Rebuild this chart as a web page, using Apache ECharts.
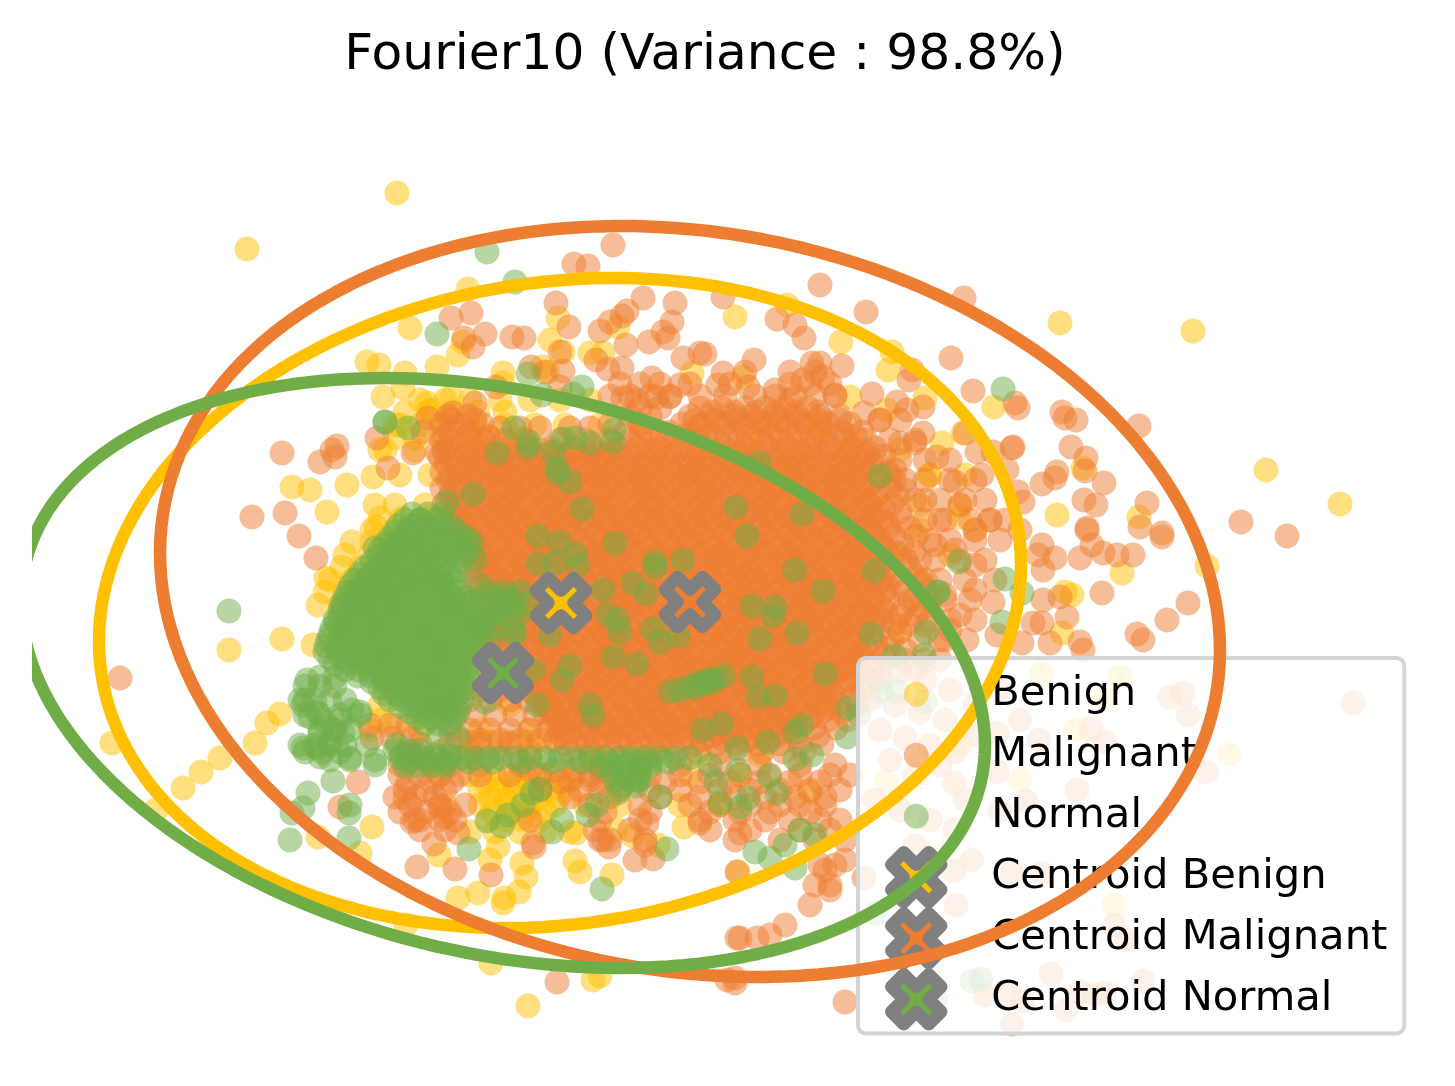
<!DOCTYPE html>
<html><head><meta charset="utf-8"><style>html,body{margin:0;background:#fff}#c{width:1455px;height:1086px}</style>
<script src="https://cdn.jsdelivr.net/npm/echarts@6/dist/echarts.min.js"></script></head><body><div id="c"></div>
<script>
const titleText = 'Fourier10 (Variance : 98.8%)';
const classNames = ['Benign','Malignant','Normal'];
const classColors = ['#FFC000','#ED7D31','#70AD47'];
// Dense areas are read as rows: [y, x, x, x ...]
const benignRows = [
[400,420,445,470,500,530,560,590],[412,405,428,452,478,505],[425,395,420,445,475,505,535,565,600,640,700,760,820],[438,395,415,440,465,490,520],
[450,385,415,445,475,505,540,575,610,650,700,750,800,850,900],[475,400,430,460,500,540,590,640,690,740,790,840,890,930,965],
[505,375,395,425,450,500,550,600,650,700,760,810,870,920,960],[518,380,402,428,450],[530,372,395,420,450,500,560,620,680,740,800,860,920,975],
[542,352,372,392,412],[555,345,370,395,430,480,540,600,660,720,790,850,900,950],[567,342,360,380,402],[580,330,352,375,400,440,500,560,620,680,740,800,860,920],
[592,325,345,362,385],[605,318,340,365,395,450,500,560,620,680,740,800,860],[630,340,375,420,480,540,600,660,720,780,840,900],
[655,385,440,500,560,620,680,740,800,860],[680,430,490,540,600,650,710,770,830],[705,380,430,510,545,590,650,710,770,830],
[730,370,420,480,530,560,610,670,730,790],[742,470,490,510,530,550],[755,410,470,530,590,650,700,760],[775,440,470,495,520,545,575,610,690,740],
[782,485,500,515,530,548,565],[790,480,498,515,532,550,568],[798,490,505,522,540,558],[805,445,480,505,530,555,585,620,680,720],[812,492,510,528,545],[820,488,505,522,540],[832,470,495,520,545,570]
];
const benignPoints = [
[397,193],[247,249],[468,289],[410,328],[367,362],[379,365],[405,373],[437,367],[458,355],[463,342],[383,397],[403,388],[427,403],[431,410],[452,397],[503,373],[503,383],[558,318],[550,340],[563,352],[590,353],[603,353],[618,327],[400,425],[380,450],[542,367],[548,372],[692,373],
[735,317],[787,305],[841,342],[892,352],[888,370],[1060,323],[994,407],[925,398],[887,410],[1057,515],[1083,468],[1139,517],[959,517],[963,433],[942,443],[929,475],[850,397],[743,377],[1122,573],[1072,595],[1062,633],[1193,331],[1266,470],[1340,504],[1207,566],
[292,487],[310,490],[347,485],[373,477],[327,512],[376,527],[229,650],[282,639],[313,645],[326,578],[112,743],[156,810],[183,788],[201,772],[220,758],[255,743],[267,723],[280,714],[318,837],[372,827],[360,853],[439,855],[458,898],[478,893],[504,898],[503,903],[519,892],[526,877],[522,863],[490,860],[498,847],[575,861],[580,872],[612,875],[616,829],[633,836],[658,845],[684,827],[576,833],[406,925],[491,963],[528,1006],[593,980],[600,976],[738,872],[810,792],
[1120,677],[1041,673],[1229,754],[886,781],[1114,905],[920,760],[960,745],[1020,780],[1105,700],[1075,730],[1065,592],[380,720],[395,725],[548,703],[552,712],[610,655],[655,520]
];
const malignantRows = [
[372,745,790,815],[384,620,640,660,690,730,790,810,830],[396,610,630,650,670,700,725,755,775,795,815,835],
[408,700,722,745,765,785,808,640,660],[416,448,468,690,712,735,752,775,797,820,840,630,650],[424,442,462,482,682,702,724,744,766,788,806,828,850,610,640],
[428,500,520,540,570,590],
[432,450,470,625,648,670,692,712,735,757,778,798,820,842,862],[440,442,462,484,505,560,610,630,655,675,698,718,740,762,782,804,825,845,866,525,585],
[448,448,468,488,510,530,552,574,594,618,638,660,682,702,724,745,768,788,810,830,852,875],
[456,440,460,482,502,524,546,566,588,608,630,652,672,695,716,738,758,780,802,822,845,866,884],
[464,446,468,488,510,530,552,572,596,616,638,658,680,702,722,745,766,788,808,830,852,872],
[472,442,462,484,504,526,546,568,590,610,632,654,674,696,718,738,760,782,802,824,846,866,888],
[480,448,470,490,512,532,554,574,598,618,640,660,682,704,724,746,768,790,810,832,854,874,894],
[488,442,464,484,506,526,548,570,590,612,634,654,676,698,718,740,762,782,804,826,846,868,890],
[496,450,472,492,514,534,556,576,600,620,642,662,684,706,726,748,770,790,812,834,854,876,898],
[504,444,466,486,508,528,550,572,592,614,636,656,678,700,720,742,764,784,806,828,848,870,892],
[512,452,474,494,516,536,558,578,602,622,644,664,686,708,728,750,772,792,814,836,856,878,900],
[520,456,476,498,518,540,560,582,604,624,646,668,688,710,732,752,774,796,816,838,860,880,902],
[528,464,484,506,526,548,568,590,612,632,654,676,696,718,740,760,782,804,824,846,868,888,910],
[536,470,490,512,532,554,574,596,618,638,660,682,702,724,746,766,788,810,830,852,874,894,916],
[544,476,498,518,540,560,582,604,624,646,668,688,710,732,752,774,796,816,838,860,880,902],
[552,470,492,512,534,554,576,598,618,640,662,682,704,726,746,768,790,810,832,854,874,896,914],
[560,480,500,522,542,564,586,606,628,650,670,692,714,734,756,778,798,820,842,862,884,906,920],
[568,484,506,526,548,568,590,612,632,654,676,696,718,740,760,782,804,824,846,868,888,910],
[576,490,512,532,554,574,596,618,638,660,682,702,724,746,766,788,810,830,852,874,894,916],
[584,494,516,536,558,578,602,622,644,664,686,708,728,750,772,792,814,836,856,878,900,922],
[592,500,522,542,564,584,606,628,648,670,692,712,734,756,776,798,820,840,862,884,904,926],
[600,504,526,546,568,590,610,632,654,674,696,718,738,760,782,802,824,846,866,888,910,930],
[608,500,520,542,562,584,606,626,648,670,690,712,734,754,776,798,818,840,862,882,904,922],
[616,496,516,538,558,580,602,622,644,666,686,708,730,750,772,794,814,836,858,878,900,916],
[624,490,512,532,554,574,596,618,638,660,682,702,724,746,766,788,810,830,852,874,894,910],
[632,494,516,536,558,578,602,622,644,664,686,708,728,750,772,792,814,836,856,878,900],
[640,488,510,530,552,572,594,616,636,658,680,700,722,744,764,786,808,828,850,872,892],
[648,484,504,526,546,568,590,610,632,654,674,696,718,738,760,782,802,824,846,866,888],
[656,480,500,522,542,564,586,606,628,650,670,692,714,734,756,778,798,820,842,862,884],
[664,490,512,532,554,574,596,618,638,660,682,702,724,746,766,788,810,830,852,874],
[672,498,520,540,562,582,604,626,646,668,690,710,732,754,774,796,818,838,860,880],
[680,510,530,552,572,594,616,636,658,680,700,722,744,764,786,808,828,850,872],
[688,522,542,564,584,606,628,648,670,692,712,734,756,776,798,820,840,862],
[696,536,556,578,598,620,642,662,684,706,726,748,770,790,812,834,854],
[704,540,562,582,604,626,646,668,690,710,732,754,774,796,818,838,858],
[712,545,566,586,608,630,650,672,694,714,736,758,778,800,822,842],
[720,552,572,594,616,636,658,680,700,722,744,764,786,808,828,848],
[728,558,580,600,622,644,664,686,708,728,750,772,792,814,836],
[736,562,584,604,626,648,668,690,712,732,754,776,796,818],
[744,420,450,480,510,566,588,610,630,652,672,694,716,736,758,780,800,822],
[752,410,440,470,500,530,570,592,612,634,656,676,698,720,740,762,784,804],
// second pass over the solid middle
[412,712,734,756,775,796,818],[420,452,475,695,715,735,757,778,798,818,840],[436,445,468,488,640,662,684,705,726,748,770,790,812,832,855],
[452,444,466,486,506,528,548,570,592,612,634,656,676,698,720,740,762,784,804,826,848,868],
[460,452,474,494,516,536,558,580,600,622,644,664,686,708,728,750,772,792,814,836,856,876],
[468,458,478,500,520,542,562,586,606,628,648,670,692,712,735,756,778,798,820,842,862],
[476,450,472,494,514,536,558,578,600,622,642,664,686,706,728,750,770,792,814,834,856,880],
[484,458,480,500,522,544,564,586,608,628,650,672,692,714,736,756,778,800,820,842,862],
[492,452,474,496,516,538,560,580,602,624,644,666,688,708,730,752,772,794,816,836,858,880],
[500,460,482,504,524,546,568,588,610,632,652,674,696,716,738,760,780,802,824,844,866],
[508,456,478,500,520,542,564,584,606,628,648,670,692,712,734,756,776,798,820,840,862,884],
[516,466,488,510,530,552,574,594,616,638,658,680,702,722,744,766,786,808,830,850,872],
[524,462,482,504,526,546,568,590,610,632,654,674,696,718,738,760,782,802,824,846,866,888],
[532,468,488,510,532,552,574,596,616,638,660,680,702,724,744,766,788,808,830,852,872],
[540,474,496,518,538,560,582,602,624,646,666,688,710,730,752,774,794,816,838,858,880],
[548,478,500,520,542,564,584,606,628,648,670,692,712,734,756,776,798,820,840,862,884],
[556,484,506,526,548,570,590,612,634,654,676,698,718,740,762,782,804,826,846,868,890],
[564,488,510,532,552,574,596,616,638,660,680,702,724,744,766,788,808,830,852,872],
[572,494,516,536,558,580,600,622,644,664,686,708,728,750,772,792,814,836,856,878],
[580,498,520,542,562,584,606,626,648,670,690,712,734,754,776,798,818,840,862,882],
[588,504,526,548,568,590,612,632,654,676,696,718,740,760,782,804,824,846,868,888],
[596,508,530,552,572,594,616,636,658,680,700,722,744,764,786,808,828,850,872],
[604,506,528,550,570,592,614,634,656,678,698,720,742,762,784,806,826,848,870],
[612,502,524,546,566,588,610,630,652,674,694,716,738,758,780,802,822,844,866,886],
[620,498,520,542,562,584,606,626,648,670,690,712,734,754,776,798,818,840,862,882],
[628,500,522,544,564,586,608,628,650,672,692,714,736,756,778,800,820,842,864],
[636,496,518,540,560,582,604,624,646,668,688,710,732,752,774,796,816,838,860],
[644,492,514,536,556,578,600,620,642,664,684,706,728,748,770,792,812,834,856,876],
[652,488,510,532,552,574,596,616,638,660,680,702,724,744,766,788,808,830,852],
[660,494,516,538,558,580,602,622,644,666,686,708,730,750,772,794,814,836,858],
[668,504,526,548,568,590,612,632,654,676,696,718,740,760,782,804,824,846],
[676,514,536,556,578,600,620,642,664,684,706,728,748,770,792,812,834,856],
[684,526,548,568,590,612,632,654,676,696,718,740,760,782,804,824,846],
[692,532,554,574,596,618,638,660,682,702,724,746,766,788,810,830],
[700,544,566,586,608,630,650,672,694,714,736,758,778,800,822],
[708,550,572,592,614,636,656,678,700,720,742,764,784,806,828],
[716,556,578,598,620,642,662,684,706,726,748,770,790,812],
[724,562,584,604,626,648,668,690,712,732,754,776,796],
[732,570,590,612,634,654,676,698,718,740,762,782],
[740,574,596,618,638,660,682,702,724,746,766],
// between the dense block and the Normal cluster
[570,470,478],[580,472,482],[590,475,488],[600,480,492],[620,480],[660,478],[675,490],[690,480,500,515],[700,452,470,490,510,528],[715,455,475,495,515,535],[725,370,390,408],[730,450,470,490,510,530,548],[738,372,392,412],[740,460,480,500,520,540,555],
[770,530,555,575,600],[780,570,590],[790,600],
// lower and right edges of the cloud
[420,880,900],[440,890,915],[460,900,925,950],[480,905,925,950,975],[500,915,940,965],[520,925,945,970,990],[540,930,950,975,1000],[560,935,960,985],[580,940,965],[600,945,970],[620,930,950,975],[640,920,945],[660,905,925],
[765,400,425,450,480,520,600,640,680,720,760,800,835],
[775,400,420,440,460,480,510,540,590,620,650,680,710,740,770,800,830,850],
[782,408,432,452,560,600,635,665,700,730,760,790,820],
[790,405,425,445,540,580,620,650,680,720,750,780,810,840],[797,395,415,435,570,610,660,700,735,765,795,825],[805,410,440,465,590,640,690,720,750,780,800,825],
[812,400,425,450,605,650,710,740,770,810],[820,415,440,455,530,600,640,700,735,765,790,820,840],[830,420,445,595,630,710,750,800,830],[840,600,610,645,735,780,815,845],[865,820,835],[885,815,830]
];
const malignantPoints = [
[282,453],[613,245],[574,264],[588,266],[556,303],[643,298],[675,303],[627,311],[622,316],[610,322],[600,331],[569,327],[672,322],[663,332],[668,338],[649,342],[626,345],[451,318],[471,313],[485,334],[464,338],[473,347],[512,337],[524,338],[560,352],[563,371],[560,387],[596,360],[683,358],[700,353],[531,367],[545,372],[608,369],[622,368],[652,378],[680,385],[670,397],[623,398],[637,400],[657,397],[496,387],[475,403],[453,413],[428,418],[423,432],[377,438],[337,446],[332,450],[335,457],[320,462],[388,468],[413,453],[437,452],
[723,297],[820,285],[866,312],[777,319],[795,325],[804,338],[705,354],[754,360],[964,298],[951,358],[912,370],[909,380],[973,391],[1015,403],[1018,408],[1062,412],[1065,418],[1076,420],[1139,426],[1071,447],[1086,458],[1057,472],[1055,478],[1042,484],[1085,471],[1104,483],[1084,500],[1096,505],[1147,503],[1087,528],[1140,527],[1162,533],[1013,447],[1012,448],[993,452],[977,452],[1007,470],[1018,492],[1023,502],[982,475],[985,500],[955,482],[965,433],[923,433],[915,443],[937,457],[900,443],[923,407],[907,410],[897,402],[872,394],[864,413],[842,366],[820,363],[812,363],[823,377],[803,380],[775,390],[748,387],[723,373],[718,385],[790,400],[835,395],[880,420],[895,470],[905,490],[925,500],[940,520],[960,505],[975,530],[990,520],[935,545],[955,550],[975,565],[995,580],[925,580],[945,595],[960,615],[975,590],[915,600],[925,625],[940,640],[905,650],[915,670],[940,660],[950,630],[1005,520],[1020,530],
[1087,530],[1162,537],[1092,545],[1080,558],[1103,553],[1117,555],[1133,555],[1102,593],[1167,620],[1137,634],[1143,640],[1067,617],[1060,597],[1043,600],[1042,623],[1033,623],[997,635],[1022,643],[1050,643],[1080,642],[1083,650],[1042,545],[1055,558],[1038,555],[1043,570],[993,602],[967,640],[1188,603],[1241,522],[1287,536],
[120,678],[252,517],[285,513],[299,536],[316,558],[358,782],[340,807],[405,798],[412,822],[420,820],[434,844],[417,867],[455,869],[440,807],[445,817],[458,833],[491,875],[533,843],[534,847],[603,840],[609,847],[645,845],[635,860],[653,859],[647,823],[700,823],[740,833],[737,872],[737,938],[557,982],[727,980],[735,983],[735,978],[845,1002],[740,938],[757,938],[770,935],[785,925],[830,890],[810,905],[825,870],[845,860],
[1353,703],[1170,697],[1183,693],[1188,715],[1206,772],[1091,729],[1105,742],[1077,790],[1026,801],[1039,740],[997,733],[997,772],[954,783],[1012,873],[1042,873],[1114,925],[1127,940],[1143,981],[1080,992],[1095,995],[1105,993],[1051,974],[1008,995],[1023,1001],[1066,1010],[1012,1024],[972,860],[956,905],[954,871],[915,846],[864,878],[985,995],
[880,680],[900,672],[925,680],[950,690],[870,700],[895,705],[920,712],[945,720],[975,705],[880,730],[905,738],[930,745],[955,752],[975,735],[890,760],[915,775],[940,765],[965,800],[875,800],[900,810],[930,820],[955,830],[1000,690],[1020,720],[1000,810]
];
const normalRows = [
[514,412,428,442],[520,405,420,436],[526,398,412,426,440,452],[532,395,408,420,432,445,458],[538,390,402,415,428,440,452,466],[544,385,397,410,422,435,448,460,472],[550,380,392,404,416,428,442,455,468],[556,378,390,402,415,428,440,452,465],[562,372,384,396,408,420,434,446,458],
[568,365,378,390,403,416,428,440],[574,360,372,384,396,410,422,434,448],[580,355,368,380,392,405,418,430,442,455],[586,350,362,374,386,400,412,424,438,450],[592,348,360,372,385,398,410,422,435,448,460,490,505,520],[598,345,356,368,380,392,404,416,430,442,454,466,482,498,512],
[604,342,355,368,380,392,405,418,430,442,455,468,482,495,508,525],[610,340,352,362,374,386,398,412,424,436,448,460,474,488,500,515],[616,340,352,365,378,390,402,415,428,440,452,465,478,490,503,518],[622,336,348,360,372,384,396,408,422,434,446,458,470,484],
[628,332,345,358,370,382,395,408,420,432,445,458,470,483,495],[634,330,342,354,366,378,392,404,416,428,440,452,466,478],[640,328,340,352,365,378,390,402,415,428,440,452,465,478,490],[646,326,338,350,362,374,386,400,412,424,436,448,460,474],
[652,325,338,350,362,375,388,400,412,425,438,450,462,475],[658,330,342,354,366,380,392,404,416,430,442,454,466],[664,335,348,360,372,385,398,410,422,435,448,460,472],[670,345,358,370,382,394,406,418,430,442,454,466],
[676,358,370,382,395,408,420,432,445,458,470],[682,372,384,396,410,422,434,446,458,470],[688,380,392,405,418,430,442,455,468],[694,384,396,408,420,434,446,458],[700,390,402,415,428,440,452,462],[706,400,412,424,438,448,460],
[712,410,422,435,448,458],[718,418,430,442,454],[724,425,438,450],[686,305,320,335],[700,300,315,330,345],[715,305,320,340,360],[730,320,335,350],[745,300,315,330,345],[752,305,322,340],[760,330,350,375],
[750,395,408,420],[755,402,418,435,450],
[758,400,412,425,438,450,462,475,488,500,515,530,545,560,575,590,605,620,632,645,660,675,690],[762,408,428,446,468,492,522,552,582,610,628,650,668],[766,405,418,432,445,600,612,625,638,650],[772,612,625,640],[780,615,630,640],[786,622,636]
];
const normalPoints = [
[538,536],[559,542],[538,564],[555,563],[575,554],[578,565],[615,543],[582,509],[570,482],[557,473],[473,494],[655,562],[655,567],[683,560],[633,583],[646,594],[603,590],[608,615],[618,620],[620,632],[653,629],[660,642],[678,636],[613,657],[637,664],[570,666],[562,680],[590,705],[593,716],[537,705],[485,702],[550,635],[513,633],[533,670],
[670,692],[680,690],[690,686],[700,682],[708,680],[716,678],[724,676],[695,688],[705,684],[712,682],
[736,507],[802,514],[747,536],[795,570],[823,591],[752,606],[775,607],[773,616],[797,633],[760,639],[871,634],[874,571],[959,562],[938,592],[938,592],[926,632],[895,656],[924,655],[825,674],[752,677],[775,696],[758,697],[848,708],[802,725],[795,732],[847,737],[768,742],[722,724],[703,730],[737,748],[812,755],[795,759],[769,776],[738,770],[710,765],[716,782],[748,798],[777,793],[1002,622],[1005,579],[1022,593],[1003,389],[880,476],[759,463],
[487,252],[515,282],[437,334],[385,422],[385,422],[528,374],[582,387],[542,395],[573,394],[408,428],[514,428],[529,442],[528,448],[497,453],[553,452],[563,439],[575,438],[590,443],[614,430],[613,442],[557,468],
[229,611],[307,680],[320,677],[335,677],[305,700],[303,705],[317,712],[310,717],[352,710],[360,712],[333,730],[320,733],[343,733],[303,748],[317,748],[330,743],[350,758],[320,757],[367,745],[375,765],[335,620],[343,607],[353,592],[368,578],[375,548],[397,543],[420,520],[443,523],[447,502],[468,540],[475,560],[460,570],[420,573],[443,585],[480,585],[462,603],[470,630],[515,633],[437,737],[458,737],[397,745],[340,720],[325,722],
[308,793],[303,808],[292,813],[290,840],[333,781],[350,805],[349,813],[349,838],[469,849],[602,889],[667,849],[487,821],[502,826],[508,815],[523,805],[540,789],[532,793],[552,832],[562,820],[588,815],[597,805],[618,793],[660,797],[637,780],[720,803],[740,807],
[755,852],[770,858],[785,845],[800,830],[815,835],[795,868],
[881,691],[897,691],[925,702],[859,715],[877,913],[972,981],[981,979],[936,999]
];
const centroidNames = ['Centroid Benign','Centroid Malignant','Centroid Normal'];
const centroids = [[561,603],[690,602],[503,673]];
// Each ellipse as read: centre x, centre y, half width, half height, y offset of its rightmost point
const ellipses = [[560,603,461,325,-38],[690,601.5,530,375.5,48.5],[503,673,482,295,72]];
const xRange = [32,1423], yRange = [100,1050];

const fromRows = rows => rows.flatMap(r => r.slice(1).map(x => [x, r[0]]));
const pointData = [fromRows(benignRows).concat(benignPoints), fromRows(malignantRows).concat(malignantPoints), fromRows(normalRows).concat(normalPoints)];

const xShape = 'M12.5 0L25 12.5L37.5 0L50 12.5L37.5 25L50 37.5L37.5 50L25 37.5L12.5 50L0 37.5L12.5 25L0 12.5Z';
const anchors = 'M0 0L0 0M95 50L95 50';
const xIcon = 'path://' + anchors + xShape;
const dotIcon = 'path://' + anchors + 'M37.5 25A12.5 12.5 0 1 1 12.5 25A12.5 12.5 0 1 1 37.5 25Z';
const xSymbol = 'path://' + xShape;

function renderEllipse(params, api){
  const cx=api.value(0), cy=api.value(1), hw=api.value(2), hh=api.value(3), off=api.value(4);
  const b=Math.sqrt(hh*hh-off*off), pts=[];
  for(let i=0;i<180;i++){const t=i/180*2*Math.PI; pts.push(api.coord([cx+hw*Math.cos(t), cy+off*Math.cos(t)+b*Math.sin(t)]));}
  const r=params.coordSys;
  return {type:'polygon',shape:{points:pts},style:{fill:null,stroke:classColors[api.value(5)],lineWidth:12.5,lineJoin:'round'},
    clipPath:{type:'rect',shape:{x:r.x,y:r.y,width:r.width,height:r.height}}};
}

const series = [];
classNames.forEach((n,i)=>series.push({name:n,type:'scatter',data:pointData[i],symbol:'circle',symbolSize:25,z:2,
  itemStyle:{color:classColors[i],opacity:0.5,borderWidth:0},silent:true}));
centroidNames.forEach((n,i)=>series.push({name:n,type:'scatter',data:[centroids[i]],symbol:xSymbol,symbolSize:50,z:3,
  itemStyle:{color:classColors[i],opacity:1,borderColor:'#808080',borderWidth:12.5,borderJoin:'round'},silent:true}));
ellipses.forEach((e,i)=>series.push({name:'Ellipse '+classNames[i],type:'custom',renderItem:renderEllipse,data:[[...e,i]],z:5,silent:true}));

const legendData = classNames.map((n,i)=>({name:n,icon:dotIcon,itemStyle:{color:classColors[i],opacity:0.5,borderColor:'rgba(0,0,0,0)',borderWidth:12.5}}))
 .concat(centroidNames.map((n,i)=>({name:n,icon:xIcon,itemStyle:{color:classColors[i],opacity:1,borderColor:'#808080',borderWidth:12.5,borderJoin:'round'}})));

const chart = echarts.init(document.getElementById('c'),null,{renderer:'canvas',width:1455,height:1086});
chart.setOption({
  animation:false,backgroundColor:'#fff',
  title:{text:titleText,left:700,top:26,textAlign:'center',textStyle:{fontFamily:'DejaVu Sans',fontSize:50.3,fontWeight:'normal',color:'#000'}},
  grid:{left:xRange[0],right:1455-xRange[1],top:yRange[0],bottom:1086-yRange[1]},
  xAxis:{type:'value',min:xRange[0],max:xRange[1],show:false},
  yAxis:{type:'value',min:yRange[0],max:yRange[1],inverse:true,show:false},
  legend:{orient:'vertical',left:858,top:658,z:4,selectedMode:false,data:legendData,itemWidth:95,itemHeight:50,itemGap:-1.5,
    padding:[5,17,3,27],backgroundColor:'rgba(255,255,255,0.8)',borderColor:'#d4d4d4',borderWidth:4,borderRadius:8,
    textStyle:{fontFamily:'DejaVu Sans',fontSize:41.67,color:'#000'}},
  tooltip:{show:false},
  series
});
</script></body></html>
